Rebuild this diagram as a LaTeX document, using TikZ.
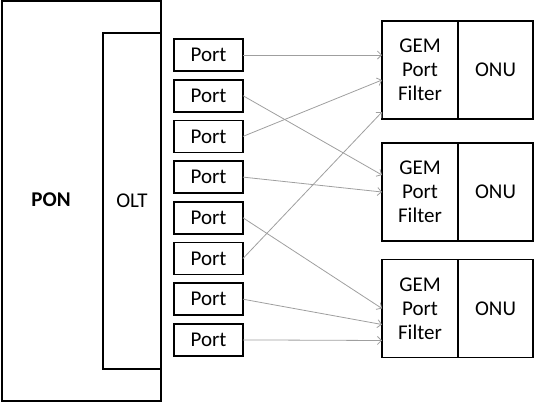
\documentclass[tikz,border=0pt]{standalone}
\usepackage{fontspec}
\setmainfont{Carlito}
\usetikzlibrary{arrows.meta, positioning}
\begin{document}
\begin{tikzpicture}[x=1pt, y=1pt]
	% Setup the styles for the boxes and links
	\tikzset{every node/.style={font=\fontsize{21}{24}\selectfont},
		box style/.style={draw, line width=1.6pt, inner sep=0pt, outer sep=0pt},
		port style/.style={box style, minimum width=69pt, minimum height=32pt},
		gem style/.style={box style, minimum width=76pt, minimum height=98pt, align=center},
		onu style/.style={box style, minimum width=75pt, minimum height=98pt},
		link style/.style={draw=gray!75, line width=0.8pt,
			-{Straight Barb[length=4pt, width=8pt]}}}
	
	\useasboundingbox (0,0) rectangle (539,-402);
	
	\node[box style, minimum width=159pt, minimum height=400pt] (pon) at (81.5,-201) {};
	\node[box style, minimum width=58pt, minimum height=336pt]  (olt) at (132,-201) {OLT};
	\node[font=\fontsize{21}{24}\selectfont\bfseries]          (ponlabel) at (51,-200) {PON};
	
	\begin{scope}[node distance=8.7pt]
	\node[port style] at (208.5,-55) (p1) {Port};
	\node[port style, below=of p1]   (p2) {Port};
	\node[port style, below=of p2]   (p3) {Port};
	\node[port style, below=of p3]   (p4) {Port};
	\node[port style, below=of p4]   (p5) {Port};
	\node[port style, below=of p5]   (p6) {Port};
	\node[port style, below=of p6]   (p7) {Port};
	\node[port style, below=of p7]   (p8) {Port};
	\end{scope}
	
	\node[gem style] at (420,-70)    (g1) {GEM\\Port\\Filter};
	\node[onu style, right=0pt of g1] (o1) {ONU};
	\node[gem style] at (420,-192)   (g2) {GEM\\Port\\Filter};
	\node[onu style, right=0pt of g2] (o2) {ONU};
	\node[gem style] at (420,-308.5) (g3) {GEM\\Port\\Filter};
	\node[onu style, right=0pt of g3] (o3) {ONU};
	
	\draw[link style] (p1.east) -- ([yshift=15pt]g1.west);
	\draw[link style] (p2.east) -- ([yshift=17pt]g2.west);
	\draw[link style] (p3.east) -- ([yshift=-10pt]g1.west);
	\draw[link style] (p4.east) -- (g2.west);
	\draw[link style] (p5.east) -- (g3.west);
	\draw[link style] (p6.east) -- ([yshift=-42pt]g1.west);
	\draw[link style] (p7.east) -- ([yshift=-16pt]g3.west);
	\draw[link style] (p8.east) -- ([yshift=-32pt]g3.west);
	
\end{tikzpicture}
\end{document}
